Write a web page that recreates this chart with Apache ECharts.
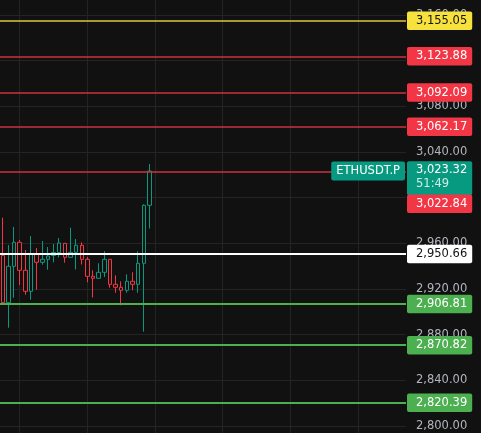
<!DOCTYPE html>
<html><head><meta charset="utf-8">
<script src="https://cdn.jsdelivr.net/npm/echarts@6/dist/echarts.min.js"></script>
<style>html,body{margin:0;padding:0;background:#111111;overflow:hidden}#c{width:481px;height:433px;}</style>
</head><body><div id="c"></div>
<script>
// ---- data ----
const slotCount = 72; // visible bar slots on the time axis (only the first 27 hold candles)
const categories = Array.from({length: slotCount}, (_, i) => 'Bar ' + (i + 1));
// [open, close, low, high]
const candles = [
  [2949.52, 2907.99, 2906.59, 2982.46],
  [2907.99, 2939.88, 2886.09, 2958.54],
  [2939.88, 2960.91, 2912.37, 2974.31],
  [2960.91, 2936.38, 2923.50, 2962.92],
  [2936.38, 2917.98, 2915.00, 2954.16],
  [2917.98, 2950.39, 2910.62, 2966.43],
  [2950.39, 2943.39, 2919.38, 2955.91],
  [2943.39, 2946.01, 2941.28, 2962.05],
  [2946.01, 2948.90, 2936.90, 2956.79],
  [2949.34, 2951.97, 2943.39, 2959.42],
  [2951.97, 2960.29, 2947.59, 2964.67],
  [2960.03, 2947.77, 2943.04, 2960.29],
  [2947.77, 2952.15, 2947.50, 2973.70],
  [2952.15, 2958.28, 2937.08, 2963.80],
  [2958.28, 2946.01, 2941.46, 2960.91],
  [2946.01, 2931.12, 2925.87, 2948.03],
  [2931.12, 2929.37, 2912.55, 2936.38],
  [2929.37, 2934.63, 2929.00, 2942.51],
  [2934.63, 2946.01, 2930.51, 2953.11],
  [2946.01, 2924.11, 2921.13, 2946.30],
  [2924.11, 2921.49, 2916.75, 2932.00],
  [2921.49, 2918.86, 2905.72, 2926.74],
  [2918.86, 2926.74, 2916.75, 2932.87],
  [2926.74, 2924.11, 2918.86, 2934.63],
  [2924.11, 2942.51, 2916.75, 2953.02],
  [2942.51, 2993.32, 2882.59, 2994.20],
  [2993.32, 3023.32, 2973.00, 3029.50]
];
const levelValues = [3155.05, 3123.88, 3092.09, 3062.17, 3022.84, 2950.66, 2906.81, 2870.82, 2820.39];
const levelKinds  = ['yellow', 'red', 'red', 'red', 'red', 'white', 'green', 'green', 'green'];
const lastPrice = 3023.32;
const symbolName = 'ETHUSDT.P';
const countdown = '51:49';
const yMin = 2760, yMax = 3200, yStep = 40;

// ---- styling ----
const FONT = 'DejaVu Sans';
const FS = 11.5;
const kindStyle = {
  yellow: {line: '#dcc83a', width: 1.5, bg: '#f7e13c', text: '#131313'},
  red:    {line: '#cc323e', width: 1.5, bg: '#f23645', text: '#ffffff'},
  white:  {line: '#ffffff', width: 2,   bg: '#ffffff', text: '#131313'},
  green:  {line: '#4caf50', width: 2,   bg: '#4caf50', text: '#ffffff'}
};
function fmt(v) {
  const s = Number(v).toFixed(2);
  const [a, b] = s.split('.');
  return a.replace(/\B(?=(\d{3})+(?!\d))/g, ',') + '.' + b;
}

const seriesData = categories.map((c, i) => candles[i] ? candles[i] : '-');

const markData = [];
// last price (invisible line, labels only)
markData.push({
  yAxis: lastPrice,
  lineStyle: {color: 'rgba(0,0,0,0)', width: 0},
  label: {
    show: true, position: 'insideEnd', distance: [1, 0],
    formatter: symbolName, color: '#ffffff', backgroundColor: '#089981', opacity: 1,
    fontFamily: FONT, fontSize: FS, lineHeight: 13, padding: [3, 5, 3, 5], borderRadius: 2
  }
});
markData.push({
  yAxis: lastPrice,
  lineStyle: {color: 'rgba(0,0,0,0)', width: 0},
  label: {
    show: true, position: 'insideEndBottom', distance: [-1, -9.7],
    align: 'left', verticalAlign: 'top', opacity: 1,
    formatter: '{p|' + fmt(lastPrice) + '}\n{t|' + countdown + '}',
    backgroundColor: '#089981', padding: [2, 5, 4, 9], borderRadius: 2,
    rich: {
      p: {color: '#ffffff', fontFamily: FONT, fontSize: FS, lineHeight: 14},
      t: {color: '#cdeee6', fontFamily: FONT, fontSize: FS, lineHeight: 14}
    }
  }
});
levelValues.forEach((v, i) => {
  const st = kindStyle[levelKinds[i]];
  const shifted = (v === 3022.84);
  const label = {
    show: true, formatter: fmt(v), color: st.text, backgroundColor: st.bg,
    fontFamily: FONT, fontSize: FS, lineHeight: 12.5, padding: [3, 5, 3, 9], borderRadius: 2
  };
  if (shifted) {
    Object.assign(label, {position: 'insideEndBottom', distance: [-1, 23.0], align: 'left', verticalAlign: 'top'});
  } else {
    Object.assign(label, {position: 'end', distance: 1});
  }
  markData.push({yAxis: v, lineStyle: {color: st.line, width: st.width, type: 'solid'}, label});
});

const chart = echarts.init(document.getElementById('c'), null, {renderer: 'canvas'});
chart.setOption({
  backgroundColor: '#111111',
  animation: false,
  grid: {left: 0, right: 75, top: -30.61, bottom: -38.63, containLabel: false, outerBoundsMode: 'none'},
  xAxis: {
    type: 'category', data: categories, boundaryGap: true,
    axisLine: {show: false}, axisTick: {show: false}, axisLabel: {show: false},
    splitLine: {show: true, alignWithLabel: true, interval: (idx) => idx % 12 === 3,
      lineStyle: {color: '#242424', width: 1}}
  },
  yAxis: {
    type: 'value', position: 'right', min: yMin, max: yMax, interval: yStep,
    axisLine: {show: false}, axisTick: {show: false},
    axisLabel: {formatter: fmt, color: '#b2b5be', fontFamily: FONT, fontSize: FS, margin: 10},
    splitLine: {lineStyle: {color: '#242424', width: 1}}
  },
  series: [{
    type: 'candlestick',
    data: seriesData,
    barWidth: 4,
    itemStyle: {
      color: '#111111', color0: '#111111',
      borderColor: '#089981', borderColor0: '#f23645', borderWidth: 1
    },
    markLine: {
      silent: true, animation: false, symbol: ['none', 'none'],
      data: markData
    }
  }]
});
</script></body></html>
